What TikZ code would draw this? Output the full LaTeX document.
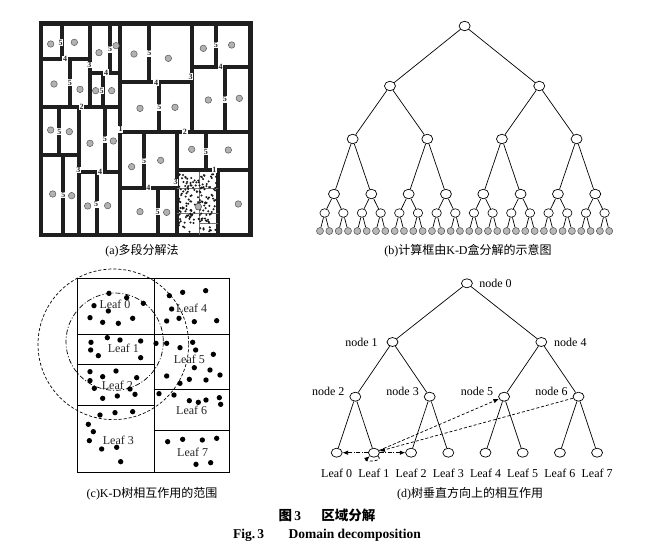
\documentclass[tikz,border=0pt]{standalone}
\usepackage{fontspec}
\setmainfont{Liberation Serif}
\newfontfamily\cjk{Noto Sans CJK SC}
\usetikzlibrary{arrows.meta,shapes.geometric,positioning}
\newcommand{\zh}[1]{{\cjk #1}}
\tikzset{
    %Define standard arrow tip
    >={Latex[length=5.5pt,width=4.5pt]},
    %Define styles for tree nodes
    tnode/.style={
           ellipse,
           draw=black, line width=0.7pt,
           minimum width=11pt,
           minimum height=9.5pt,
           inner sep=0pt,
           fill=white},
    snode/.style={
           ellipse,
           draw=black, line width=0.6pt,
           minimum width=9.5pt,
           minimum height=8.5pt,
           inner sep=0pt,
           fill=white},
    gnode/.style={
           circle,
           draw=black!70, line width=0.5pt,
           minimum size=7pt,
           inner sep=0pt,
           fill=black!28},
    dnode/.style={
           ellipse,
           draw=black, line width=0.7pt,
           minimum width=11pt,
           minimum height=9pt,
           inner sep=0pt,
           fill=white},
    % Define styles for the plan
    wall/.style={line width=3.8pt, draw=black!88, line cap=rect},
    thinwall/.style={line width=0.4pt, draw=black!55},
    ball/.style={
           circle,
           draw=black!65, line width=0.5pt,
           minimum size=6.5pt,
           inner sep=0pt,
           fill=black!30},
    num/.style={
           fill=white,
           inner sep=0.6pt,
           text=black!85,
           font=\fontsize{8}{8}\selectfont\bfseries},
    % Define styles for texts
    leaflab/.style={font=\fontsize{12}{13}\selectfont, text=black!85},
    treelab/.style={font=\fontsize{12}{13}\selectfont},
    captext/.style={font=\fontsize{12}{14}\selectfont},
    figtext/.style={font=\fontsize{13.5}{15}\selectfont\bfseries},
    % Define line styles
    tline/.style={draw=black, line width=0.7pt},
    fdash/.style={line width=0.7pt, dash pattern=on 3pt off 2pt},
    ddash/.style={line width=0.7pt, dash pattern=on 4pt off 1.5pt on 1pt off 1.5pt},
}
\begin{document}
\begin{tikzpicture}[x=1pt,y=-1pt]
\fill[white] (0,0) rectangle (656,549);
\useasboundingbox (0,0) rectangle (656,549);

% (a) multi-segment plan
\begin{scope}[shift={(30,10)},scale=1/3]
\foreach \xa/\ya/\xb/\yb in {95/40/95/148, 33/148/180/148, 180/40/180/290,
    240/40/240/190, 180/190/270/190, 120/148/120/290, 218/190/218/290,
    33/290/270/290, 270/40/270/675, 88/290/88/435, 33/435/148/435,
    148/290/148/675, 225/290/225/485, 148/485/270/485, 100/435/100/675,
    200/485/200/675, 358/40/358/215, 270/215/485/215, 485/40/485/365,
    388/215/388/365, 270/365/662/365, 342/365/342/535, 270/535/440/535,
    440/365/440/675, 383/535/383/675, 558/40/558/170, 485/170/662/170,
    585/170/585/365, 528/365/528/480, 440/480/662/480, 565/480/565/675}
  \draw[wall] (\xa,\ya) -- (\xb,\yb);
\draw[wall, line width=4.8pt] (33,40) rectangle (662,675);
\foreach \xa/\ya/\xb/\yb in {508/485/508/675, 440/535/565/535,
    440/610/565/610, 508/640/565/640}
  \draw[thinwall] (\xa,\ya) -- (\xb,\yb);
\pgfmathsetseed{11}
\foreach \k in {1,...,170} {
  \pgfmathsetmacro\px{447+112*rnd}
  \pgfmathsetmacro\py{492+176*rnd}
  \fill[black!90] (\px,\py) circle (3.4);
}
\foreach \x/\y [count=\k] in {62/102, 133/97, 207/128, 258/107, 312/132,
    415/145, 520/115, 605/105, 72/222, 150/238, 197/242, 245/242, 330/295,
    435/292, 535/270, 628/265, 62/360, 118/365, 180/400, 250/393, 485/418,
    595/420, 305/470, 392/451, 68/552, 125/557, 173/588, 233/587, 330/605,
    410/607, 505/590, 625/582}
  \node[ball] (ba\k) at (\x,\y) {};
\foreach \x/\y/\t [count=\k] in {92/98/5, 240/118/5, 358/130/5, 558/105/5,
    120/218/5, 215/242/5, 388/292/5, 585/268/5, 88/365/5, 225/388/5,
    528/425/5, 342/453/5, 100/555/5, 198/583/5, 383/605/5,
    105/148/4, 228/188/4, 378/218/4, 572/172/4, 210/485/4, 355/535/4,
    178/165/3, 482/200/3, 145/480/3, 437/517/3,
    155/290/2, 465/365/2, 272/358/1, 553/480/1}
  \node[num] (nu\k) at (\x,\y) {\t};
\end{scope}
\node[captext] (capa) at (142,251) {(a)\zh{多段分解法}};

% (b) K-D box tree
\foreach \L/\y in {0/26,1/86,2/139,3/194} {
  \pgfmathtruncatemacro\n{2^\L-1}
  \foreach \i in {0,...,\n}
    \node[tnode] (b\L-\i) at ({320+9.33*((\i+0.5)*2^(5-\L)-0.5)},\y) {};
}
\foreach \i in {0,...,15}
  \node[snode] (b4-\i) at ({324.67+18.66*\i},213) {};
\foreach \i in {0,...,31}
  \node[gnode] (b5-\i) at ({320+9.33*\i},231) {};
\foreach \L in {1,...,5} {
  \pgfmathtruncatemacro\n{2^\L-1}
  \pgfmathtruncatemacro\q{\L-1}
  \foreach \i in {0,...,\n} {
    \pgfmathtruncatemacro\p{div(\i,2)}
    \draw[tline] (b\q-\p) -- (b\L-\i);
  }
}
\node[captext] (capb) at (468,251) {(b)\zh{计算框由}K-D\zh{盒分解的示意图}};

% (c) K-D tree leaves
\begin{scope}[shift={(30,265)},scale=1/3]
\draw[line width=0.8pt] (143,40) rectangle (598,622);
\draw[line width=0.8pt] (372,40) -- (372,622);
\foreach \y in {207,298,420}
  \draw[line width=0.8pt] (143,\y) -- (372,\y);
\foreach \y in {207,373,497}
  \draw[line width=0.8pt] (372,\y) -- (598,\y);
\foreach \x/\y/\t [count=\k from 0] in {255/118/0, 280/250/1, 262/362/2,
    265/525/3, 485/130/4, 478/282/5, 485/437/6, 488/563/7}
  \node[leaflab] (c\k) at (\x,\y) {Leaf \t};
\foreach \x/\y in {237/85, 290/98, 192/122, 340/115, 235/138, 180/158,
    218/172, 265/175, 308/160,
    183/232, 232/218, 270/225, 332/228, 182/255, 205/272, 332/278,
    180/320, 258/318, 180/347, 218/335, 320/338, 193/370, 300/372,
    218/400, 262/393, 315/388,
    210/450, 255/443, 308/440, 175/478, 190/500, 178/527, 215/552,
    260/547, 272/590,
    418/92, 458/82, 527/77, 425/132, 410/168, 447/160, 493/170, 560/167,
    378/235, 410/235, 450/248, 488/232, 497/255, 550/268, 493/308,
    540/315, 570/330, 410/333, 478/343, 528/345, 450/355,
    387/386, 432/390, 478/407, 505/412, 528/405, 568/398, 572/418,
    413/530, 458/523, 517/525, 560/520, 498/598, 542/593}
  \fill (\x,\y) circle (8);
\draw[line width=0.7pt, dash pattern=on 3pt off 2pt] (250,238) circle (226);
\draw[line width=0.7pt, dash pattern=on 5pt off 2pt on 1pt off 2pt] (254,230) circle (146);
\end{scope}
\node[captext] (capc) at (152,494) {(c)K-D\zh{树相互作用的范围}};

% (d) vertical interaction in the tree
\node[dnode, label={[treelab, label distance=3pt]right:node 0}] (n0) at (466.9,283.3) {};
\node[dnode, label={[treelab, label distance=5.5pt]left:node 1}] (n1) at (392.5,342) {};
\node[dnode, label={[treelab, label distance=3.5pt]right:node 4}] (n4) at (541.3,342) {};
\node[dnode, label={[treelab, label distance=1.5pt, yshift=5pt]left:node 2}] (n2) at (355.3,396.7) {};
\node[dnode, label={[treelab, label distance=1.5pt, yshift=5pt]left:node 3}] (n3) at (429.7,396.7) {};
\node[dnode, label={[treelab, label distance=1.5pt, yshift=5pt]left:node 5}] (n5) at (504.1,396.7) {};
\node[dnode, label={[treelab, label distance=1.5pt, yshift=5pt]left:node 6}] (n6) at (578.5,396.7) {};
\foreach \i in {0,...,7}
  \node[dnode, label={[treelab, label distance=8pt]below:Leaf \i}] (l\i) at ({336.7+37.2*\i},452.7) {};
\path[tline]
    (n0) edge (n1) edge (n4)
    (n1) edge (n2) edge (n3)
    (n4) edge (n5) edge (n6)
    (n2) edge (l0) edge (l1)
    (n3) edge (l2) edge (l3)
    (n5) edge (l4) edge (l5)
    (n6) edge (l6) edge (l7);
\draw[ddash,->] (l1) -- (l0);
\draw[ddash,->] (l1) -- (l2);
\draw[fdash,->] (l1) -- (n5);
\draw[fdash,->] (n6) -- (l1);
\draw[fdash,->] (l1) to[out=-40,in=-140,min distance=9pt] (l1);
\node[captext] (capd) at (470,494) {(d)\zh{树垂直方向上的相互作用}};

% figure caption
\node[figtext] (fig1) at (327,515) {\zh{图}\,3\hspace{1.5em}\zh{区域分解}};
\node[figtext] (fig2) at (327,535) {Fig.\,3\hspace{1.8em}Domain decomposition};
\end{tikzpicture}
\end{document}
